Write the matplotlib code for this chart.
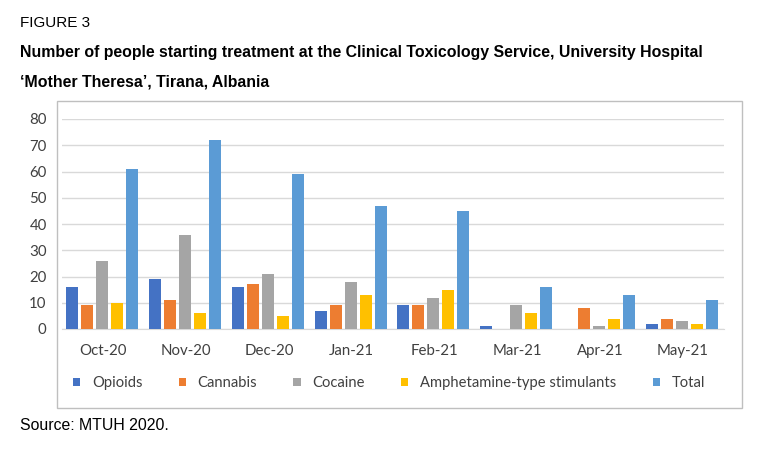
import matplotlib.pyplot as plt
import numpy as np
from matplotlib.patches import Rectangle

months = ['Oct-20', 'Nov-20', 'Dec-20', 'Jan-21', 'Feb-21', 'Mar-21', 'Apr-21', 'May-21']
opioids = [16, 19, 16, 7, 9, 1, 0, 2]
cannabis = [9, 11, 17, 9, 9, 0, 8, 4]
cocaine = [26, 36, 21, 18, 12, 9, 1, 3]
amphetamines = [10, 6, 5, 13, 15, 6, 4, 2]
total = [61, 72, 59, 47, 45, 16, 13, 11]

series_names = ['Opioids', 'Cannabis', 'Cocaine', 'Amphetamine-type stimulants', 'Total']
colors = ['#4472C4', '#ED7D31', '#A5A5A5', '#FFC000', '#5B9BD5']

fig = plt.figure(figsize=(7.68, 4.5), dpi=100)
fig.patch.set_facecolor('white')

# chart frame
fig.patches.append(Rectangle((57 / 768, 1 - 408 / 450), (742 - 57) / 768, (408 - 101) / 450,
                             transform=fig.transFigure, fill=False, edgecolor='#BFBFBF', lw=1))

ax = fig.add_axes([62 / 768, 1 - 329 / 450, (724 - 62) / 768, (329 - 119) / 450])
x = np.arange(len(months))
w = 0.145
pitch = 0.181
for i, (vals, name, c) in enumerate(zip([opioids, cannabis, cocaine, amphetamines, total], series_names, colors)):
    ax.bar(x + (i - 2) * pitch - 0.012, vals, width=w, color=c, label=name, zorder=3)

ax.set_xlim(-0.5, len(months) - 0.5)
ax.set_ylim(0, 80)
ax.set_yticks(range(0, 81, 10))
ax.yaxis.grid(True, color='#D9D9D9', lw=1, zorder=0)
for s in ['top', 'right', 'left']:
    ax.spines[s].set_visible(False)
ax.spines['bottom'].set_color('#D9D9D9')
ax.set_xticks(x)
ax.set_xticklabels(months)
ax.tick_params(length=0, labelsize=10.8, labelcolor='#404040', pad=11, axis='x')
ax.tick_params(length=0, labelsize=10.8, labelcolor='#404040', pad=11, axis='y')
for lbl in ax.get_xticklabels() + ax.get_yticklabels():
    lbl.set_fontfamily('Lato')

leg = fig.legend(loc='center', bbox_to_anchor=(389 / 768, 1 - 383 / 450), ncol=5, frameon=False,
                 handlelength=0.5, handleheight=0.5, handletextpad=0.8, columnspacing=2.45,
                 prop={'family': 'Lato', 'size': 10.6})
for t in leg.get_texts():
    t.set_color('#404040')

fig.text(20 / 768, 1 - 23 / 450, 'FIGURE 3', fontsize=11, family='Liberation Sans', va='center')
fig.text(20 / 768, 1 - 53 / 450,
         'Number of people starting treatment at the Clinical Toxicology Service, University Hospital',
         fontsize=11.4, family='Liberation Sans', weight='bold', va='center')
fig.text(20 / 768, 1 - 82 / 450, '\u2018Mother Theresa\u2019, Tirana, Albania',
         fontsize=11.4, family='Liberation Sans', weight='bold', va='center')
fig.text(20 / 768, 1 - 425 / 450, 'Source: MTUH 2020.', fontsize=11.4, family='Liberation Sans', va='center')

fig.savefig('out.png', dpi=100)
